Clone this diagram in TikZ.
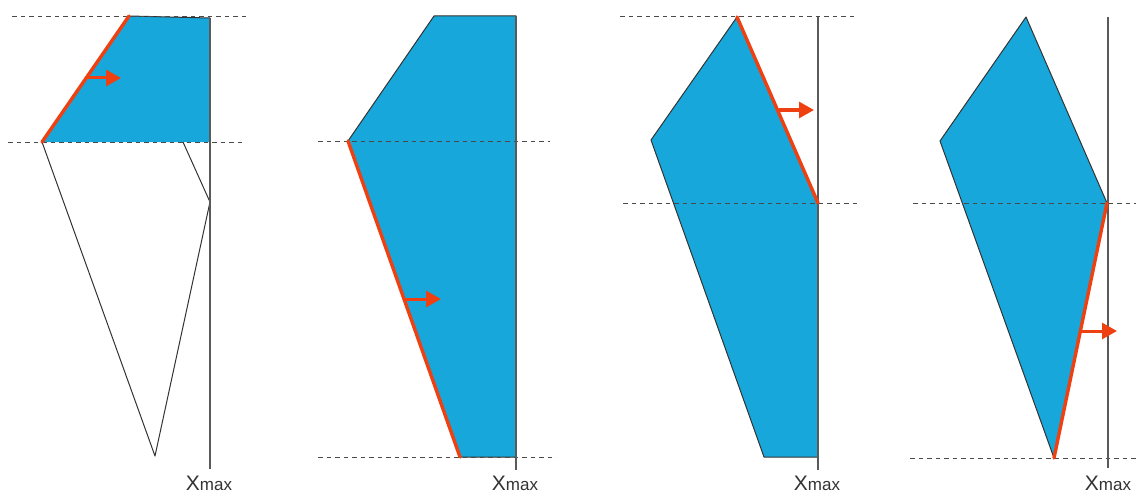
\documentclass[tikz,border=0pt]{standalone}
\usepackage{fontspec}
\setmainfont{Liberation Sans}
\usetikzlibrary{arrows.meta}
\definecolor{fillblue}{HTML}{17A7DA}
\definecolor{redorange}{HTML}{EE4010}
\definecolor{edgegray}{HTML}{333333}
\definecolor{guidegray}{HTML}{4A4A4A}
\definecolor{linegray}{HTML}{5A5A5A}
\definecolor{textgray}{HTML}{333333}
\newcommand{\xmaxtext}{{\fontsize{21}{21}\selectfont X}{\fontsize{17}{17}\selectfont max}}
\begin{document}
\begin{tikzpicture}[x=1pt,y=-1pt,
 guide/.style={draw=guidegray, dash pattern=on 4.5pt off 4pt, line width=1pt},
 poly/.style={fill=fillblue, draw=edgegray, line width=1pt, line join=round},
 outline/.style={draw=edgegray, line width=1pt, line join=round},
 redge/.style={draw=redorange, line width=3.4pt, line cap=round},
 push/.style={draw=redorange, line width=3pt, -{Triangle[length=15pt,width=16pt]}},
 xmaxline/.style={draw=linegray, line width=1.1pt},
 lbl/.style={text=textgray, inner sep=0pt, anchor=base}]
\useasboundingbox (0,0) rectangle (1136,495);

% ---------- panel 1 ----------
\coordinate (a1) at (129,16);
\coordinate (a2) at (210,18);
\coordinate (a3) at (210,142);
\coordinate (a4) at (42,142);
\coordinate (a5) at (155,456);
\coordinate (a6) at (210,202);
\coordinate (a7) at (183,142);
\fill[fillblue] (a1) -- (a2) -- (a3) -- (a4) -- cycle;
\draw[outline] (a1) -- (a2);
\draw[outline] (a4) -- (a5) -- (a6) -- (a7);
\draw[guide] (12,17) -- (248,17);
\draw[guide] (8,142) -- (245,142);
\draw[xmaxline] (210,18) -- (210,469);
\draw[redge] (a4) -- (a1);
\coordinate (p1s) at (85,78);
\coordinate (p1e) at (121,78);
\draw[push] (p1s) -- (p1e);
\node[lbl] (l1) at (209,490) {\xmaxtext};

% ---------- panel 2 ----------
\coordinate (b1) at (434,16);
\coordinate (b2) at (516,16);
\coordinate (b3) at (516,457);
\coordinate (b4) at (460,457);
\coordinate (b5) at (348,141);
\draw[poly] (b1) -- (b2) -- (b3) -- (b4) -- (b5) -- cycle;
\draw[guide] (318,141) -- (550,141);
\draw[guide] (318,457) -- (556,457);
\draw[xmaxline] (516,16) -- (516,470);
\draw[redge] (b5) -- (b4);
\coordinate (p2s) at (404,299);
\coordinate (p2e) at (441,299);
\draw[push] (p2s) -- (p2e);
\node[lbl] (l2) at (515,490) {\xmaxtext};

% ---------- panel 3 ----------
\coordinate (c1) at (737,17);
\coordinate (c2) at (818,203);
\coordinate (c3) at (818,457);
\coordinate (c4) at (764,457);
\coordinate (c5) at (651,140);
\draw[poly] (c1) -- (c2) -- (c3) -- (c4) -- (c5) -- cycle;
\draw[guide] (620,17) -- (855,17);
\draw[guide] (623,203) -- (858,203);
\draw[xmaxline] (818,17) -- (818,470);
\draw[redge] (c1) -- (c2);
\coordinate (p3s) at (779,110);
\coordinate (p3e) at (814,110);
\draw[push] (p3s) -- (p3e);
\node[lbl] (l3) at (817,490) {\xmaxtext};

% ---------- panel 4 ----------
\coordinate (d1) at (1026,17);
\coordinate (d2) at (1107,203);
\coordinate (d3) at (1054,458);
\coordinate (d4) at (940,141);
\draw[poly] (d1) -- (d2) -- (d3) -- (d4) -- cycle;
\draw[guide] (913,203) -- (1136,203);
\draw[guide] (910,458) -- (1136,458);
\draw[xmaxline] (1108,17) -- (1108,468);
\draw[redge] (d2) -- (d3);
\coordinate (p4s) at (1080,331);
\coordinate (p4e) at (1117,331);
\draw[push] (p4s) -- (p4e);
\node[lbl] (l4) at (1108,490) {\xmaxtext};
\end{tikzpicture}
\end{document}
